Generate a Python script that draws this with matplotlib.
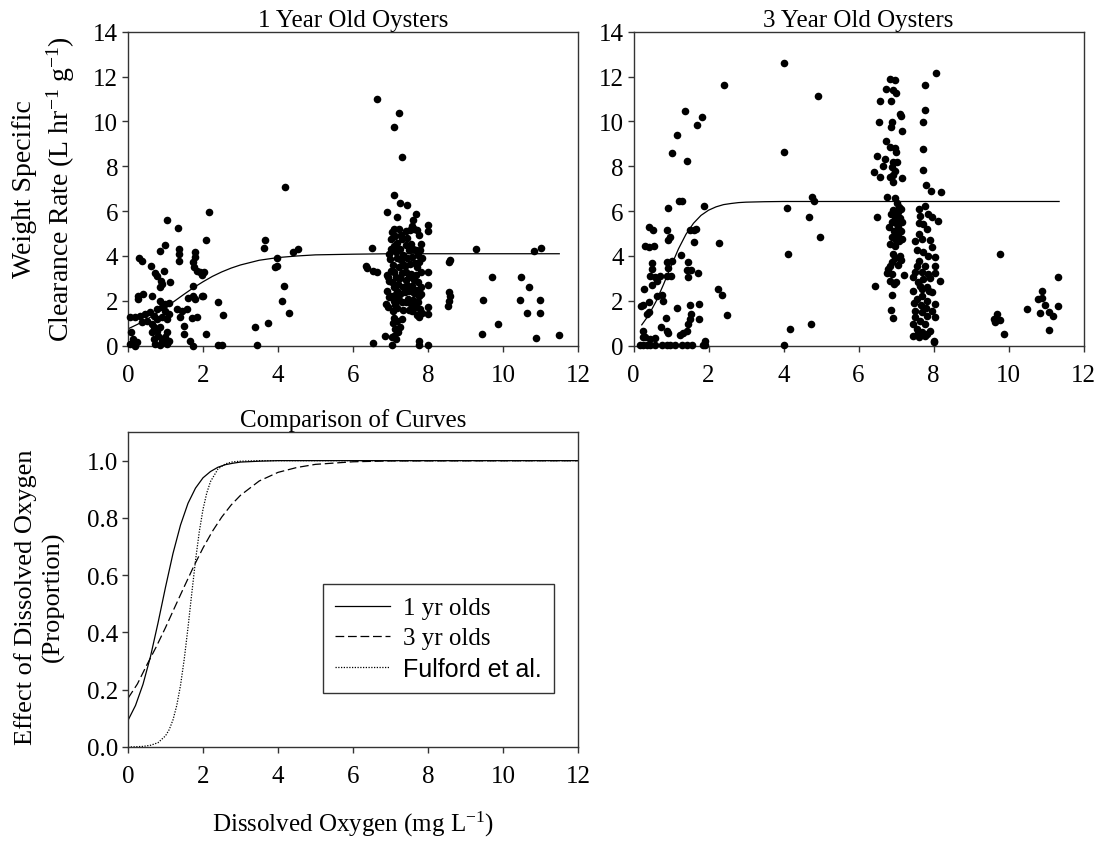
import matplotlib.pyplot as plt

plt.rcParams['font.family'] = ['Liberation Serif', 'DejaVu Serif']
plt.rcParams['mathtext.fontset'] = 'custom'
plt.rcParams['mathtext.rm'] = 'Liberation Serif'
plt.rcParams['mathtext.it'] = 'Liberation Serif:italic'

# ---- 1 year old oysters: (dissolved oxygen, clearance rate) ----
pts_1yr = [
    # low DO group
    (1.03, 5.62), (2.16, 5.94), (1.34, 5.27), (2.09, 4.73), (0.99, 4.50), (0.84, 4.23),
    (1.36, 4.31), (1.36, 4.09), (1.37, 3.76), (0.29, 3.89), (0.38, 3.76), (0.61, 3.57),
    (1.79, 4.16), (1.79, 3.94), (1.74, 3.71), (1.77, 3.49), (1.83, 3.34), (1.92, 3.27),
    (2.03, 3.27), (0.72, 3.24), (0.76, 3.09), (0.97, 3.34), (0.87, 2.90), (0.90, 2.75),
    (0.84, 2.60), (1.12, 2.82), (1.72, 2.64), (0.26, 2.20), (0.41, 2.30), (0.26, 2.08),
    (0.65, 2.23), (0.84, 2.00), (0.99, 1.86), (1.08, 1.90), (1.61, 2.11), (1.72, 2.23),
    (1.79, 2.08), (1.98, 2.20), (2.39, 1.93), (0.05, 1.26), (0.19, 1.26), (0.32, 1.34),
    (0.45, 1.41), (0.59, 1.49), (0.68, 1.34), (0.76, 1.63), (0.90, 1.71), (0.99, 1.56),
    (1.08, 1.41), (0.36, 1.04), (0.50, 1.11), (0.63, 0.97), (0.76, 1.19), (0.90, 1.26),
    (1.03, 1.19), (1.30, 1.63), (1.43, 1.56), (1.39, 1.26), (1.48, 0.89), (1.56, 1.63),
    (1.70, 1.23), (1.83, 1.26), (2.52, 1.38), (0.08, 0.59), (0.14, 0.30), (0.05, 0.07),
    (0.23, 0.15), (0.19, 0.00), (0.68, 0.82), (0.76, 0.67), (0.85, 0.82), (0.81, 0.45),
    (0.68, 0.30), (0.90, 0.22), (1.03, 0.59), (0.99, 0.37), (0.72, 0.07), (0.85, 0.03),
    (1.03, 0.07), (1.08, 0.22), (0.63, 0.59), (1.48, 0.52), (1.65, 0.22), (1.74, 0.00),
    (2.07, 0.52), (2.40, 0.03), (2.51, 0.03), (1.97, 3.15), (1.99, 2.23),
    # mid DO
    (3.39, 0.85), (3.45, 0.02), (3.72, 1.01), (3.65, 4.73), (3.63, 4.35), (3.96, 3.89),
    (3.96, 3.57), (3.93, 3.49), (4.16, 2.67), (4.10, 2.00), (4.29, 1.46), (4.19, 7.06),
    (4.39, 4.16), (4.54, 4.31),
    # DO around 7
    (6.35, 3.57), (6.38, 3.46), (6.50, 4.34), (6.54, 3.34), (6.63, 3.27), (6.52, 0.12),
    (6.85, 0.45), (6.63, 11.0), (7.23, 10.37), (7.08, 9.73), (7.30, 8.40), (7.08, 6.72),
    (7.25, 6.36), (7.45, 6.27), (6.90, 5.97), (7.16, 5.75), (7.68, 5.87), (7.03, 0.03),
    (7.08, 0.45), (7.77, 0.22), (7.77, 0.03),
    (6.88, 1.85), (6.92, 1.72), (6.90, 2.45), (6.95, 2.90), (6.93, 3.05), (6.98, 3.85),
    (6.95, 4.10), (7.00, 4.75), (7.02, 4.30), (7.05, 5.05), (7.08, 5.20), (7.12, 4.90),
    (7.10, 4.45), (7.15, 4.20), (7.18, 4.60), (7.22, 5.20), (7.28, 4.95), (7.30, 4.75),
    (7.06, 3.60), (7.10, 3.30), (7.14, 3.05), (7.04, 2.85), (7.10, 2.60), (7.16, 2.45),
    (7.02, 2.20), (7.08, 2.00), (7.12, 1.80), (7.06, 1.55), (7.18, 1.70), (7.22, 2.05),
    (7.25, 2.30), (7.20, 2.75), (7.26, 3.00), (7.30, 3.25), (7.22, 3.50), (7.28, 3.80),
    (7.32, 4.05), (7.35, 3.60), (7.34, 2.60), (7.30, 1.95), (7.34, 1.60), (7.10, 1.25),
    (7.06, 1.00), (7.12, 0.75), (7.20, 0.60), (7.05, 0.40), (7.14, 0.30), (7.25, 0.85),
    (7.30, 1.20), (7.16, 1.10), (6.97, 2.15), (6.90, 3.15), (7.00, 3.35), (7.18, 3.90),
    (7.25, 4.30), (7.12, 2.25),
    (7.40, 5.10), (7.45, 4.80), (7.52, 5.15), (7.58, 5.35), (7.62, 5.20), (7.70, 5.15),
    (7.75, 4.95), (7.42, 4.50), (7.50, 4.25), (7.55, 4.55), (7.60, 4.30), (7.68, 4.25),
    (7.72, 4.05), (7.78, 4.25), (7.45, 3.90), (7.52, 3.65), (7.58, 3.95), (7.64, 3.70),
    (7.70, 3.50), (7.76, 3.75), (7.80, 3.30), (7.42, 3.30), (7.48, 3.05), (7.55, 3.20),
    (7.62, 2.95), (7.68, 3.15), (7.74, 2.85), (7.80, 2.60), (7.44, 2.70), (7.50, 2.45),
    (7.57, 2.65), (7.63, 2.35), (7.70, 2.50), (7.76, 2.20), (7.82, 2.30), (7.46, 2.10),
    (7.53, 1.90), (7.60, 2.05), (7.66, 1.75), (7.72, 1.95), (7.78, 1.65), (7.84, 1.45),
    (7.48, 1.60), (7.56, 1.55), (7.62, 1.70), (7.70, 1.35), (7.76, 1.30), (7.40, 1.95),
    (7.38, 2.40), (7.40, 2.95), (7.38, 3.55), (7.85, 3.90), (7.80, 4.55), (7.60, 5.60),
    (8.01, 5.38), (8.01, 5.13), (8.01, 3.30), (8.01, 2.70), (7.99, 1.71), (7.99, 1.41),
    (8.01, 0.03),
    # high DO
    (8.57, 3.71), (8.59, 3.82), (8.57, 2.38), (8.59, 2.23), (8.55, 2.00), (8.52, 1.78),
    (9.28, 4.31), (9.46, 2.05), (9.44, 0.52), (9.71, 3.08), (9.86, 0.97), (10.45, 2.05),
    (10.48, 3.08), (10.69, 2.60), (10.65, 1.46), (10.83, 4.23), (11.02, 4.35),
    (10.99, 2.05), (10.99, 1.46), (10.88, 0.33), (11.48, 0.46),
]
do_1yr = [p[0] for p in pts_1yr]
cr_1yr = [p[1] for p in pts_1yr]

# ---- 3 year old oysters ----
pts_3yr = [
    (1.37, 10.48), (1.83, 10.18), (1.69, 9.85), (1.16, 9.39), (1.02, 8.59), (1.42, 8.25),
    (1.20, 6.43), (1.28, 6.46), (0.93, 6.12), (1.88, 6.24), (0.40, 5.30), (0.51, 5.14),
    (0.88, 5.16), (0.97, 4.86), (0.93, 4.72), (1.51, 5.16), (1.60, 5.16), (1.67, 5.20),
    (1.60, 4.64), (0.31, 4.43), (0.40, 4.38), (0.55, 4.44), (1.27, 4.04), (0.48, 3.67),
    (0.50, 3.42), (0.44, 3.12), (0.57, 3.05), (0.71, 3.12), (0.88, 3.71), (1.02, 3.79),
    (0.93, 3.45), (0.88, 3.12), (0.99, 3.09), (1.46, 3.71), (1.42, 3.39), (1.53, 3.39),
    (1.46, 3.05), (1.73, 3.24), (0.29, 2.53), (0.48, 2.70), (0.62, 2.90), (0.62, 2.23),
    (0.75, 2.26), (0.78, 1.98), (0.20, 1.78), (0.26, 1.81), (0.40, 1.96), (1.51, 1.83),
    (1.75, 1.84), (1.15, 1.66), (0.35, 1.41), (0.42, 1.49), (1.53, 1.41), (1.51, 1.19),
    (1.46, 0.97), (1.75, 1.19), (0.86, 1.23), (0.72, 0.82), (0.88, 0.67), (0.93, 0.55),
    (1.42, 0.64), (1.33, 0.55), (1.24, 0.48), (0.26, 0.67), (0.31, 0.40), (0.44, 0.30),
    (0.57, 0.34), (0.24, 0.37), (1.91, 0.22),
    (0.17, 0.04), (0.26, 0.04), (0.35, 0.04), (0.44, 0.04), (0.57, 0.04), (0.75, 0.04),
    (0.88, 0.04), (0.97, 0.04), (1.11, 0.04), (1.28, 0.04), (1.42, 0.04), (1.55, 0.04),
    (1.86, 0.04), (1.91, 0.04),
    (4.00, 12.6), (2.40, 11.63), (4.91, 11.14), (4.00, 8.63), (4.77, 6.64), (4.82, 6.46),
    (4.08, 6.14), (4.67, 5.74), (4.97, 4.86), (2.27, 4.58), (4.13, 4.07), (2.24, 2.53),
    (2.35, 2.27), (2.50, 1.38), (4.16, 0.74), (4.74, 0.97), (4.00, 0.04),
    (6.84, 11.89), (6.96, 11.84), (6.73, 11.44), (6.93, 11.41), (7.00, 11.26),
    (6.57, 10.92), (6.86, 10.92), (7.11, 10.33), (7.13, 10.22), (6.55, 9.96), (6.90, 9.96),
    (6.87, 9.76), (7.17, 9.58), (6.74, 9.14), (6.84, 8.84), (6.96, 8.80), (7.00, 8.62),
    (6.50, 8.47), (6.70, 8.32), (6.93, 8.20), (7.02, 8.18), (6.66, 8.00), (6.88, 7.95),
    (6.97, 7.78), (6.93, 7.62), (6.85, 7.50), (6.41, 7.76), (6.57, 7.53), (7.15, 7.47),
    (6.93, 7.28), (6.75, 6.64), (6.50, 5.72), (6.44, 2.64), (7.11, 4.01), (7.22, 3.15),
    (6.98, 6.60), (7.02, 6.35), (7.08, 6.20), (6.92, 6.05), (7.05, 5.95), (7.12, 6.10),
    (6.86, 5.85), (6.97, 5.75), (7.10, 5.70), (6.88, 5.50), (7.00, 5.45), (7.06, 5.30),
    (6.82, 5.30), (6.94, 5.10), (7.04, 5.00), (7.12, 5.10), (6.90, 4.85), (7.00, 4.70),
    (6.85, 4.55), (6.97, 4.45), (7.08, 4.65), (6.92, 4.10), (6.96, 3.90), (6.90, 3.75),
    (6.85, 3.55), (6.78, 3.40), (6.75, 3.25), (6.88, 3.20), (6.83, 2.90), (6.95, 2.75),
    (7.00, 2.85), (6.90, 2.25), (6.86, 1.60), (6.93, 1.25), (7.05, 3.60), (7.15, 5.50),
    (7.16, 4.75), (7.13, 3.80),
    (8.07, 12.15), (7.77, 11.62), (7.77, 10.50), (7.71, 9.96), (7.71, 8.75), (7.71, 7.83),
    (7.79, 7.16), (7.93, 6.88), (8.19, 6.84),
    (7.77, 6.24), (7.60, 6.09), (7.64, 5.79), (7.86, 5.87), (7.95, 5.72), (8.13, 5.57),
    (7.73, 5.42), (7.82, 5.20), (7.60, 4.98), (7.69, 4.75), (7.51, 4.68), (7.95, 4.38),
    (7.73, 4.16), (7.86, 4.01), (7.60, 3.79), (8.04, 3.94), (8.04, 3.57), (7.55, 3.57),
    (7.77, 3.57), (7.69, 3.27), (7.86, 3.19), (8.04, 3.22), (7.46, 3.05), (7.73, 2.97),
    (8.17, 2.90), (7.64, 2.67), (7.82, 2.60), (7.46, 2.45), (7.95, 2.38), (7.69, 2.23),
    (7.55, 2.08), (7.82, 2.01), (8.04, 1.86), (7.51, 1.56), (7.69, 1.49), (7.95, 1.56),
    (7.82, 1.34), (8.04, 1.26), (7.51, 1.26), (7.64, 1.11), (7.46, 0.97), (7.77, 0.97),
    (7.55, 0.74), (7.69, 0.59), (7.91, 0.67), (7.46, 0.45), (7.60, 0.37), (7.82, 0.52),
    (8.01, 0.22), (8.01, 0.15), (7.50, 3.30), (7.58, 2.85), (7.66, 1.80), (7.80, 1.70),
    (7.90, 3.00), (7.56, 4.25), (7.62, 5.45), (7.90, 4.70), (7.48, 1.90), (7.58, 0.55),
    (7.70, 2.55), (7.88, 2.45), (7.76, 0.45),
    (9.76, 4.09), (9.68, 1.41), (9.61, 1.19), (9.77, 1.16), (9.64, 1.07), (9.89, 0.52),
    (11.33, 3.05), (10.90, 2.45), (10.90, 2.11), (10.79, 2.08), (10.97, 1.81),
    (11.33, 1.77), (10.49, 1.63), (10.84, 1.44), (11.08, 1.49), (11.19, 1.34),
    (11.07, 0.71),
]
do_3yr = [p[0] for p in pts_3yr]
cr_3yr = [p[1] for p in pts_3yr]

# fitted curves
fit1_x = [0, 0.25, 0.5, 0.75, 1.0, 1.25, 1.5, 1.75, 2.0, 2.25, 2.5, 2.75, 3.0, 3.5, 4.0, 4.5,
          5.0, 6.0, 7.0, 8.0, 11.5]
fit1_y = [0.75, 0.95, 1.17, 1.43, 1.71, 2.00, 2.30, 2.59, 2.85, 3.09, 3.29, 3.46, 3.60, 3.81,
          3.93, 4.00, 4.05, 4.08, 4.10, 4.10, 4.10]
fit3_x = [0.22, 0.4, 0.6, 0.8, 1.0, 1.2, 1.4, 1.6, 1.8, 2.0, 2.2, 2.4, 2.6, 2.8, 3.0, 3.5,
          4.0, 5.0, 11.35]
fit3_y = [0.93, 1.35, 1.97, 2.73, 3.54, 4.32, 4.97, 5.46, 5.81, 6.04, 6.19, 6.29, 6.34, 6.38,
          6.40, 6.42, 6.43, 6.43, 6.43]

cmp_x1 = [0, 0.2, 0.4, 0.6, 0.8, 1.0, 1.2, 1.4, 1.6, 1.8, 2.0, 2.2, 2.4, 2.6, 2.8, 3.0, 3.5,
          4.0, 12.0]
cmp_y1 = [0.093, 0.145, 0.219, 0.316, 0.433, 0.558, 0.676, 0.775, 0.851, 0.904, 0.940, 0.962,
          0.977, 0.986, 0.991, 0.995, 0.998, 1.0, 1.0]
cmp_x3 = [0, 0.25, 0.5, 0.75, 1.0, 1.25, 1.5, 1.75, 2.0, 2.25, 2.5, 2.75, 3.0, 3.5, 4.0, 4.5,
          5.0, 6.0, 7.0, 12.0]
cmp_y3 = [0.17, 0.22, 0.286, 0.349, 0.417, 0.489, 0.560, 0.630, 0.695, 0.753, 0.803, 0.845,
          0.879, 0.929, 0.959, 0.976, 0.987, 0.996, 0.999, 1.0]
cmp_xf = [0, 0.4, 0.6, 0.8, 1.0, 1.1, 1.2, 1.3, 1.4, 1.5, 1.6, 1.7, 1.8, 1.9, 2.0, 2.1, 2.2,
          2.4, 2.6, 2.8, 3.0, 3.5, 12.0]
cmp_yf = [0.0, 0.002, 0.006, 0.015, 0.039, 0.061, 0.095, 0.145, 0.215, 0.307, 0.417, 0.536,
          0.651, 0.751, 0.830, 0.887, 0.927, 0.971, 0.989, 0.996, 0.998, 1.0, 1.0]

W, H = 1101, 845
fig = plt.figure(figsize=(W / 100, H / 100), dpi=100)


def axes_px(left, top, right, bottom):
    return fig.add_axes([left / W, 1 - bottom / H, (right - left) / W, (bottom - top) / H])


def style(ax):
    for s in ax.spines.values():
        s.set_linewidth(1.0)
        s.set_color('#333333')
    ax.tick_params(direction='out', length=4, width=1, color='#333333', labelsize=18)
    ax.tick_params(axis='x', pad=9)
    ax.tick_params(axis='y', pad=3)


ax1 = axes_px(128, 32.7, 578, 346.7)
ax2 = axes_px(633.5, 32.7, 1083.5, 346.7)
ax3 = axes_px(128, 433, 578, 748)

for ax, x, y, fx, fy, title in [(ax1, do_1yr, cr_1yr, fit1_x, fit1_y, '1 Year Old Oysters'),
                                (ax2, do_3yr, cr_3yr, fit3_x, fit3_y, '3 Year Old Oysters')]:
    ax.scatter(x, y, s=30, color='black', zorder=3, clip_on=False, linewidths=0)
    ax.plot(fx, fy, color='black', lw=0.9, zorder=2)
    ax.set_xlim(0, 12)
    ax.set_ylim(0, 14)
    ax.set_xticks(range(0, 13, 2))
    ax.set_yticks(range(0, 15, 2))
    ax.set_title(title, fontsize=18, pad=4)
    style(ax)

# two-line y label of the top row, one text per line
fig.text(25 / W, 1 - 189 / H, 'Weight Specific', rotation=90, ha='center', va='center',
         fontsize=20)
fig.text(61 / W, 1 - 189 / H, 'Clearance Rate (L hr$^{-1}$ g$^{-1}$)', rotation=90,
         ha='center', va='center', fontsize=20)

ax3.plot(cmp_x1, cmp_y1, color='black', lw=0.9, label='1 yr olds')
ax3.plot(cmp_x3, cmp_y3, color='black', lw=0.9, ls=(0, (7, 3)), label='3 yr olds')
ax3.plot(cmp_xf, cmp_yf, color='black', lw=0.9, ls=(0, (1, 1.2)), label='Fulford et al.')
ax3.set_xlim(0, 12)
ax3.set_ylim(0, 1.1)
ax3.set_xticks(range(0, 13, 2))
ax3.set_yticks([0.0, 0.2, 0.4, 0.6, 0.8, 1.0])
ax3.set_yticklabels(['%.1f' % v for v in [0.0, 0.2, 0.4, 0.6, 0.8, 1.0]])
ax3.set_title('Comparison of Curves', fontsize=18, pad=4)
style(ax3)
ax3.set_xlabel('Dissolved Oxygen (mg L$^{-1}$)', fontsize=18, labelpad=16)
fig.text(26 / W, 1 - 597 / H, 'Effect of Dissolved Oxygen', rotation=90, ha='center',
         va='center', fontsize=19)
fig.text(53 / W, 1 - 597 / H, '(Proportion)', rotation=90, ha='center', va='center',
         fontsize=19)

leg = ax3.legend(loc='center', bbox_to_anchor=(0.69, 0.343), fontsize=18, frameon=True,
                 fancybox=False, edgecolor='black', handlelength=2.2, handletextpad=0.5,
                 borderpad=0.5, labelspacing=0.3, borderaxespad=0)
leg.get_frame().set_linewidth(1.0)
leg.get_texts()[2].set_fontfamily(['Liberation Sans', 'DejaVu Sans'])

fig.savefig('out.png', dpi=100)
